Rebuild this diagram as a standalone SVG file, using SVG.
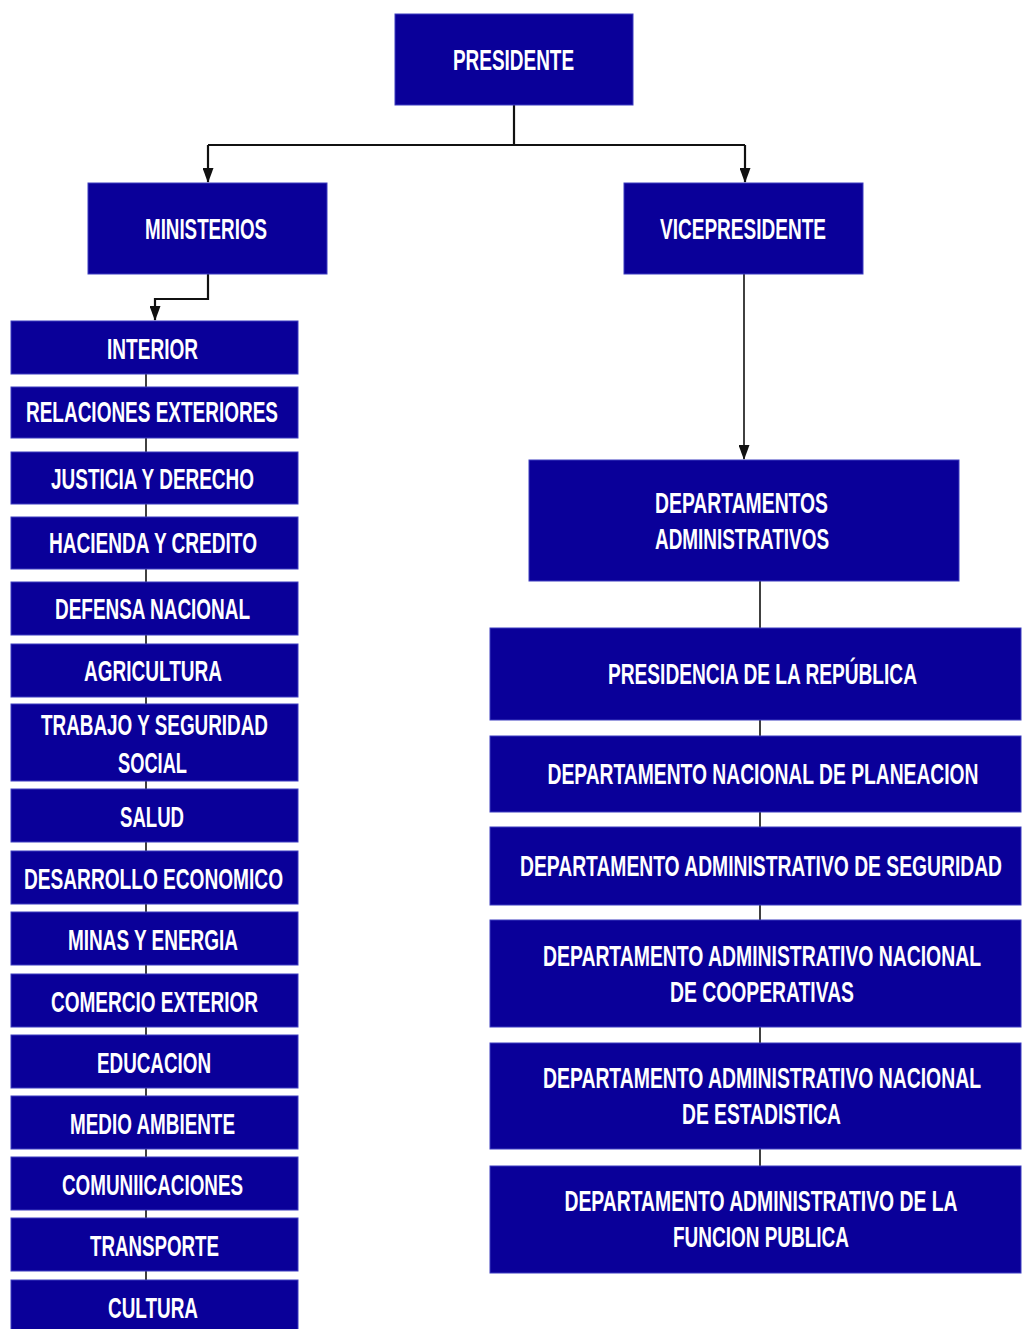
<svg xmlns="http://www.w3.org/2000/svg" width="1022" height="1329" viewBox="0 0 1022 1329">
<style>
.box{fill:#0a0099;stroke:#3c3cc0;stroke-width:1}
.t{fill:#ffffff;font-family:"Liberation Sans",Arial,sans-serif;font-weight:bold;font-size:30px;text-anchor:middle}
.c{fill:none;stroke:#111111;stroke-width:2.2}
.c2{fill:none;stroke:#111111;stroke-width:1.6}
</style>
<defs>
<marker id="arrd" markerUnits="userSpaceOnUse" markerWidth="11" markerHeight="15" refX="5.5" refY="14" viewBox="0 0 11 15">
<path d="M0,0 L11,0 L5.5,15 Z" fill="#111111"/>
</marker>
</defs>
<rect width="1022" height="1329" fill="#ffffff"/>
<g id="connectors">
<path class="c" d="M514,105 V145"/>
<path class="c" d="M208,145 H745"/>
<path class="c" d="M208,145 V182" marker-end="url(#arrd)"/>
<path class="c" d="M745,145 V182" marker-end="url(#arrd)"/>
<path class="c" d="M208,274 V299 H155 V320" marker-end="url(#arrd)"/>
<path class="c2" d="M744,274 V459" marker-end="url(#arrd)"/>
<path class="c2" d="M146,374 V1280"/>
<path class="c2" d="M760,581 V1166"/>
</g>
<g id="presidente"><rect class="box" x="395" y="14" width="238" height="91"/><text class="t" transform="translate(513.5,70) scale(0.636,1)" textLength="190.3" lengthAdjust="spacingAndGlyphs">PRESIDENTE</text></g>
<g id="ministerios"><rect class="box" x="88" y="183" width="239" height="91"/><text class="t" transform="translate(206,239) scale(0.636,1)" textLength="191.8" lengthAdjust="spacingAndGlyphs">MINISTERIOS</text></g>
<g id="vicepresidente"><rect class="box" x="624" y="183" width="239" height="91"/><text class="t" transform="translate(743,239) scale(0.636,1)" textLength="261" lengthAdjust="spacingAndGlyphs">VICEPRESIDENTE</text></g>
<g id="interior"><rect class="box" x="11" y="321" width="287" height="53"/><text class="t" transform="translate(152.5,359) scale(0.636,1)" textLength="143.1" lengthAdjust="spacingAndGlyphs">INTERIOR</text></g>
<g id="relaciones"><rect class="box" x="11" y="387" width="287" height="51"/><text class="t" transform="translate(152,422) scale(0.636,1)" textLength="396.2" lengthAdjust="spacingAndGlyphs">RELACIONES EXTERIORES</text></g>
<g id="justicia"><rect class="box" x="11" y="452" width="287" height="52"/><text class="t" transform="translate(152.5,489) scale(0.636,1)" textLength="319.2" lengthAdjust="spacingAndGlyphs">JUSTICIA Y DERECHO</text></g>
<g id="hacienda"><rect class="box" x="11" y="517" width="287" height="52"/><text class="t" transform="translate(153,553) scale(0.636,1)" textLength="327" lengthAdjust="spacingAndGlyphs">HACIENDA Y CREDITO</text></g>
<g id="defensa"><rect class="box" x="11" y="582" width="287" height="53"/><text class="t" transform="translate(152.5,619) scale(0.636,1)" textLength="306.6" lengthAdjust="spacingAndGlyphs">DEFENSA NACIONAL</text></g>
<g id="agricultura"><rect class="box" x="11" y="644" width="287" height="53"/><text class="t" transform="translate(153,681) scale(0.636,1)" textLength="217" lengthAdjust="spacingAndGlyphs">AGRICULTURA</text></g>
<g id="trabajo"><rect class="box" x="11" y="704" width="287" height="77"/><text class="t" transform="translate(154.5,735) scale(0.636,1)" textLength="356.9" lengthAdjust="spacingAndGlyphs">TRABAJO Y SEGURIDAD</text><text class="t" transform="translate(152.5,773) scale(0.636,1)" textLength="108.5" lengthAdjust="spacingAndGlyphs">SOCIAL</text></g>
<g id="salud"><rect class="box" x="11" y="789" width="287" height="53"/><text class="t" transform="translate(152,827) scale(0.636,1)" textLength="100.6" lengthAdjust="spacingAndGlyphs">SALUD</text></g>
<g id="desarrollo"><rect class="box" x="11" y="851" width="287" height="53"/><text class="t" transform="translate(153.5,889) scale(0.636,1)" textLength="407.2" lengthAdjust="spacingAndGlyphs">DESARROLLO ECONOMICO</text></g>
<g id="minas"><rect class="box" x="11" y="912" width="287" height="53"/><text class="t" transform="translate(153,949.5) scale(0.636,1)" textLength="267.3" lengthAdjust="spacingAndGlyphs">MINAS Y ENERGIA</text></g>
<g id="comercio"><rect class="box" x="11" y="974" width="287" height="53"/><text class="t" transform="translate(154.5,1011.5) scale(0.636,1)" textLength="325.5" lengthAdjust="spacingAndGlyphs">COMERCIO EXTERIOR</text></g>
<g id="educacion"><rect class="box" x="11" y="1035" width="287" height="53"/><text class="t" transform="translate(154,1072.5) scale(0.636,1)" textLength="179.2" lengthAdjust="spacingAndGlyphs">EDUCACION</text></g>
<g id="medio"><rect class="box" x="11" y="1096" width="287" height="53"/><text class="t" transform="translate(152.5,1133.5) scale(0.636,1)" textLength="259.4" lengthAdjust="spacingAndGlyphs">MEDIO AMBIENTE</text></g>
<g id="comunicaciones"><rect class="box" x="11" y="1157" width="287" height="53"/><text class="t" transform="translate(152.5,1194.5) scale(0.636,1)" textLength="284.6" lengthAdjust="spacingAndGlyphs">COMUNIICACIONES</text></g>
<g id="transporte"><rect class="box" x="11" y="1218" width="287" height="53"/><text class="t" transform="translate(154.5,1255.5) scale(0.636,1)" textLength="202.8" lengthAdjust="spacingAndGlyphs">TRANSPORTE</text></g>
<g id="cultura"><rect class="box" x="11" y="1280" width="287" height="55"/><text class="t" transform="translate(153,1317.5) scale(0.636,1)" textLength="141.5" lengthAdjust="spacingAndGlyphs">CULTURA</text></g>
<g id="departamentos"><rect class="box" x="529" y="460" width="430" height="121"/><text class="t" transform="translate(741.5,513) scale(0.636,1)" textLength="272" lengthAdjust="spacingAndGlyphs">DEPARTAMENTOS</text><text class="t" transform="translate(742,549) scale(0.636,1)" textLength="273.6" lengthAdjust="spacingAndGlyphs">ADMINISTRATIVOS</text></g>
<g id="presidencia"><rect class="box" x="490" y="628" width="531" height="92"/><text class="t" transform="translate(762.5,684) scale(0.636,1)" textLength="485.8" lengthAdjust="spacingAndGlyphs">PRESIDENCIA DE LA REPÚBLICA</text></g>
<g id="planeacion"><rect class="box" x="490" y="736" width="531" height="76"/><text class="t" transform="translate(763,784) scale(0.636,1)" textLength="677.7" lengthAdjust="spacingAndGlyphs">DEPARTAMENTO NACIONAL DE PLANEACION</text></g>
<g id="seguridad"><rect class="box" x="490" y="827" width="531" height="78"/><text class="t" transform="translate(761,876) scale(0.636,1)" textLength="757.9" lengthAdjust="spacingAndGlyphs">DEPARTAMENTO ADMINISTRATIVO DE SEGURIDAD</text></g>
<g id="cooperativas"><rect class="box" x="490" y="920" width="531" height="107"/><text class="t" transform="translate(762,966) scale(0.636,1)" textLength="688.7" lengthAdjust="spacingAndGlyphs">DEPARTAMENTO ADMINISTRATIVO NACIONAL</text><text class="t" transform="translate(762,1002) scale(0.636,1)" textLength="289.3" lengthAdjust="spacingAndGlyphs">DE COOPERATIVAS</text></g>
<g id="estadistica"><rect class="box" x="490" y="1043" width="531" height="106"/><text class="t" transform="translate(762,1088) scale(0.636,1)" textLength="688.7" lengthAdjust="spacingAndGlyphs">DEPARTAMENTO ADMINISTRATIVO NACIONAL</text><text class="t" transform="translate(761.5,1124) scale(0.636,1)" textLength="250" lengthAdjust="spacingAndGlyphs">DE ESTADISTICA</text></g>
<g id="funcionpublica"><rect class="box" x="490" y="1166" width="531" height="107"/><text class="t" transform="translate(761,1211) scale(0.636,1)" textLength="617.9" lengthAdjust="spacingAndGlyphs">DEPARTAMENTO ADMINISTRATIVO DE LA</text><text class="t" transform="translate(761,1247) scale(0.636,1)" textLength="276.7" lengthAdjust="spacingAndGlyphs">FUNCION PUBLICA</text></g>
</svg>
